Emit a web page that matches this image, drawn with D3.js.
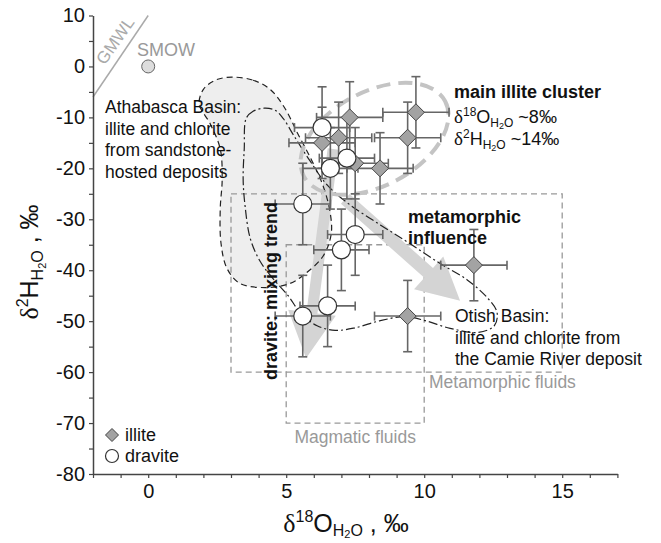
<!DOCTYPE html>
<html><head><meta charset="utf-8">
<script src="https://cdn.jsdelivr.net/npm/d3@7"></script>
<style>
html,body{margin:0;padding:0;background:#fff;}
svg{display:block;font-family:"Liberation Sans",Arial,Helvetica,sans-serif;}
</style></head><body>
<svg id="chart" width="661" height="543"></svg>
<script>
// Illite: δ18O and δ2H of the fluid (‰) with 1σ uncertainty
const illiteO   = [9.7, 9.4, 7.3, 6.9, 6.3, 8.4, 7.5, 11.8, 9.4];
const illiteH   = [-9, -14, -10, -14, -15, -20, -19, -39, -49];
const illiteOErr = [1.2, 1.2, 1.2, 1.2, 1.2, 1.2, 1.2, 1.2, 1.2];
const illiteHErr = [7, 7, 7, 7, 7, 7, 7, 7, 7];

// Dravite: δ18O and δ2H of the fluid (‰) with uncertainty
const draviteO   = [6.3, 7.2, 6.6, 5.6, 7.5, 7.0, 5.6, 6.5];
const draviteH   = [-12, -18, -20, -27, -33, -36, -49, -47];
const draviteOErr = [1.0, 1.0, 1.0, 1.0, 1.0, 1.0, 1.0, 1.0];
const draviteHErr = [8, 8, 8, 8, 8, 8, 8, 8];

// Reference water
const smow = [0, 0];
const gmwl = [[-2, -6], [0, 10]];

// Fluid source boxes [O min, O max, H min, H max]
const metamorphicBox = [3, 15, -60, -25];
const magmaticBox    = [5, 10, -70, -35];

// Athabasca Basin field (illite & chlorite, sandstone-hosted deposits)
const athabascaField = [
  [3.04,-2.1],[3.80,-2.7],[4.42,-4.5],[4.93,-8.0],[5.43,-13.3],[5.94,-18.6],
  [6.34,-23.5],[6.59,-28.6],[6.63,-32.9],[6.34,-37.2],[5.69,-40.7],[5.14,-42.6],
  [4.31,-43.4],[3.33,-42.6],[2.86,-39.7],[2.64,-34.8],[2.61,-28.0],[2.68,-22.1],
  [2.61,-16.2],[2.25,-11.3],[1.85,-7.4],[2.0,-4.5],[2.43,-2.7]
];
// Otish Basin field (Camie River deposit)
const otishField = [
  [4.20,-8.2],[3.80,-8.8],[3.55,-10.2],[3.48,-16.2],[3.44,-22.1],[3.51,-27.4],
  [3.70,-33.8],[4.06,-38.3],[4.53,-41.7],[5.07,-45.0],[5.51,-48.3],[6.12,-50.9],
  [6.78,-51.8],[7.50,-51.3],[8.41,-49.9],[9.31,-49.1],[10.04,-49.9],[10.94,-51.4],
  [11.96,-52.2],[12.54,-50.9],[12.64,-48.3],[12.32,-45.6],[11.56,-41.9],[10.58,-38.7],
  [9.49,-34.8],[8.41,-31.1],[7.32,-27.2],[6.49,-23.3],[5.87,-18.6],[5.29,-13.7],
  [4.89,-10.2],[4.60,-8.6]
];
// Main illite cluster (centre, δ18O/δ2H)
const clusterCentre = [8.2, -14.2];

// Trend arrows: [start, tip]
const mixingArrow = [[6.7, -16.2], [5.72, -57.3]];
const metamorphicArrow = [[7.14, -26.0], [11.3, -46.0]];

// Axis ticks
const xTicks = d3.range(-2, 18, 1);
const yTicks = d3.range(-80, 11, 5);

const svg = d3.select("#chart");
const x = d3.scaleLinear().domain([-2, 17]).range([93, 617.4]);
const y = d3.scaleLinear().domain([-80, 10]).range([474, 15.5]);

const illite = illiteO.map((o, i) => ({o, h: illiteH[i], eo: illiteOErr[i], eh: illiteHErr[i]}));
const dravite = draviteO.map((o, i) => ({o, h: draviteH[i], eo: draviteOErr[i], eh: draviteHErr[i]}));

const closedCurve = d3.line().x(d => x(d[0])).y(d => y(d[1])).curve(d3.curveCatmullRomClosed.alpha(0.5));

// Athabasca fill
svg.append("path").attr("d", closedCurve(athabascaField))
  .attr("fill", "#eeeeee").attr("stroke", "none");

// Fluid boxes
function box(b) {
  svg.append("rect")
    .attr("x", x(b[0])).attr("y", y(b[3]))
    .attr("width", x(b[1]) - x(b[0])).attr("height", y(b[2]) - y(b[3]))
    .attr("fill", "none").attr("stroke", "#999").attr("stroke-width", 1.3)
    .attr("stroke-dasharray", "6 4");
}
box(metamorphicBox);
box(magmaticBox);

// Trend arrows
function arrow(a, shaftW, headW, headL) {
  const x0 = x(a[0][0]), y0 = y(a[0][1]), x1 = x(a[1][0]), y1 = y(a[1][1]);
  const dx = x1 - x0, dy = y1 - y0, L = Math.hypot(dx, dy);
  const ux = dx / L, uy = dy / L, px = -uy, py = ux;
  const bx = x1 - ux * headL, by = y1 - uy * headL;
  const pts = [
    [x0 + px * shaftW / 2, y0 + py * shaftW / 2],
    [bx + px * shaftW / 2, by + py * shaftW / 2],
    [bx + px * headW / 2, by + py * headW / 2],
    [x1, y1],
    [bx - px * headW / 2, by - py * headW / 2],
    [bx - px * shaftW / 2, by - py * shaftW / 2],
    [x0 - px * shaftW / 2, y0 - py * shaftW / 2]
  ];
  svg.append("polygon").attr("points", pts.map(p => p.join(",")).join(" "))
    .attr("fill", "#d4d4d4");
}
arrow(mixingArrow, 11, 48, 46);
arrow(metamorphicArrow, 13, 44, 42);

// Field outlines
svg.append("path").attr("d", closedCurve(athabascaField))
  .attr("fill", "none").attr("stroke", "#222").attr("stroke-width", 1.2)
  .attr("stroke-dasharray", "6 4");
svg.append("path").attr("d", closedCurve(otishField))
  .attr("fill", "none").attr("stroke", "#222").attr("stroke-width", 1.2)
  .attr("stroke-dasharray", "9 3 2 3");

// Main illite cluster ellipse
svg.append("ellipse")
  .attr("transform", `translate(${x(clusterCentre[0])},${y(clusterCentre[1])}) rotate(-28)`)
  .attr("rx", 80).attr("ry", 47)
  .attr("fill", "none").attr("stroke", "#c4c4c4").attr("stroke-width", 4)
  .attr("stroke-dasharray", "14 8");

// GMWL and SMOW
svg.append("line")
  .attr("x1", x(gmwl[0][0])).attr("y1", y(gmwl[0][1]))
  .attr("x2", x(gmwl[1][0])).attr("y2", y(gmwl[1][1]))
  .attr("stroke", "#aaa").attr("stroke-width", 1.5);
svg.append("circle").attr("cx", x(smow[0])).attr("cy", y(smow[1])).attr("r", 6.5)
  .attr("fill", "#ddd").attr("stroke", "#666").attr("stroke-width", 1);

// Error bars
function errorBars(data) {
  const g = svg.append("g").attr("stroke", "#666").attr("stroke-width", 1.6).attr("fill", "none");
  const cap = 4.5;
  data.forEach(d => {
    const cx = x(d.o), cy = y(d.h);
    const xl = x(d.o - d.eo), xr = x(d.o + d.eo);
    const yt = y(d.h + d.eh), yb = y(d.h - d.eh);
    g.append("line").attr("x1", xl).attr("x2", xr).attr("y1", cy).attr("y2", cy);
    g.append("line").attr("x1", xl).attr("x2", xl).attr("y1", cy - cap).attr("y2", cy + cap);
    g.append("line").attr("x1", xr).attr("x2", xr).attr("y1", cy - cap).attr("y2", cy + cap);
    g.append("line").attr("x1", cx).attr("x2", cx).attr("y1", yt).attr("y2", yb);
    g.append("line").attr("x1", cx - cap).attr("x2", cx + cap).attr("y1", yt).attr("y2", yt);
    g.append("line").attr("x1", cx - cap).attr("x2", cx + cap).attr("y1", yb).attr("y2", yb);
  });
}
errorBars(illite);
errorBars(dravite);

// Markers
const diamondPath = s => `M0,${-s}L${s},0L0,${s}L${-s},0Z`;
svg.append("g").selectAll("path").data(illite).join("path")
  .attr("d", diamondPath(8.5))
  .attr("transform", d => `translate(${x(d.o)},${y(d.h)})`)
  .attr("fill", "#a3a3a3").attr("stroke", "#444").attr("stroke-width", 1);
svg.append("g").selectAll("circle").data(dravite).join("circle")
  .attr("cx", d => x(d.o)).attr("cy", d => y(d.h)).attr("r", 9)
  .attr("fill", "#fff").attr("stroke", "#333").attr("stroke-width", 1.2);

// Axes
const xAxis = svg.append("g").attr("transform", `translate(0,${y(-80)})`)
  .call(d3.axisBottom(x).tickValues(xTicks).tickFormat(d => d % 5 === 0 ? String(d) : "")
    .tickSize(4).tickSizeOuter(0).tickPadding(6));
const yAxis = svg.append("g").attr("transform", `translate(${x(-2)},0)`)
  .call(d3.axisLeft(y).tickValues(yTicks).tickFormat(d => d % 10 === 0 ? String(d) : "")
    .tickSize(4).tickSizeOuter(0).tickPadding(4));
[xAxis, yAxis].forEach(a => {
  a.select(".domain").attr("stroke", "#444").attr("stroke-width", 1.5);
  a.selectAll(".tick line").attr("stroke", "#444").attr("stroke-width", 1.2);
  a.selectAll(".tick text").attr("font-size", 20).attr("fill", "#111")
    .attr("font-family", "Liberation Sans, Arial, sans-serif");
});

// Text helper for rich labels: parts = [text, size, dy, family]
function rich(parent, parts) {
  parts.forEach(p => {
    const t = parent.append("tspan").text(p[0]).attr("font-size", p[1]);
    if (p[2]) t.attr("dy", p[2]);
    if (p[3]) t.attr("font-family", p[3]);
  });
}
const serif = "Liberation Serif, Times New Roman, serif";

// Axis titles
const xt = svg.append("text").attr("x", 346).attr("y", 532).attr("text-anchor", "middle").attr("fill", "#111");
rich(xt, [["δ", 26, 0, serif], ["18", 16, -10], ["O", 25, 10], ["H", 16, 4], ["2", 11, 2], ["O", 16, -2], [" , ‰", 25, -4]]);
const yt = svg.append("text").attr("transform", "translate(38,262) rotate(-90)").attr("text-anchor", "middle").attr("fill", "#111");
rich(yt, [["δ", 26, 0, serif], ["2", 16, -10], ["H", 25, 10], ["H", 16, 5], ["2", 11, 3], ["O", 16, -3], [" , ‰", 25, -5]]);

// GMWL / SMOW labels
svg.append("text").attr("transform", "translate(120,44) rotate(-55)").attr("text-anchor", "middle")
  .attr("font-size", 17).attr("fill", "#aaa").text("GMWL");
svg.append("text").attr("x", 137).attr("y", 56).attr("font-size", 18).attr("fill", "#999").text("SMOW");

// Multi-line annotation
function lines(xp, y0, dy, arr, opts = {}) {
  arr.forEach((s, i) => {
    svg.append("text").attr("x", xp).attr("y", y0 + i * dy)
      .attr("font-size", opts.size || 17.5).attr("font-weight", opts.weight || "normal")
      .attr("fill", opts.fill || "#111").text(s);
  });
}
lines(105, 113, 21.7, ["Athabasca Basin:", "illite and chlorite", "from sandstone-", "hosted deposits"]);
lines(455, 322, 21.5, ["Otish Basin:", "illite and chlorite from", "the Camie River deposit"]);
lines(408, 223, 20.5, ["metamorphic", "influence"], {weight: "bold", size: 18});
lines(454, 98, 0, ["main illite cluster"], {weight: "bold", size: 18});

const l2 = svg.append("text").attr("x", 454).attr("y", 123).attr("fill", "#111");
rich(l2, [["δ", 19, 0, serif], ["18", 12, -7], ["O", 18, 7], ["H", 12, 4], ["2", 9, 2], ["O", 12, -2], [" ~8‰", 18, -4]]);
const l3 = svg.append("text").attr("x", 454).attr("y", 145).attr("fill", "#111");
rich(l3, [["δ", 19, 0, serif], ["2", 12, -7], ["H", 18, 7], ["H", 12, 4], ["2", 9, 2], ["O", 12, -2], [" ~14‰", 18, -4]]);

svg.append("text").attr("transform", "translate(277,291) rotate(-90)").attr("text-anchor", "middle")
  .attr("font-size", 18).attr("font-weight", "bold").attr("fill", "#111").text("dravite: mixing trend");

svg.append("text").attr("x", 429).attr("y", 388).attr("font-size", 17.5).attr("fill", "#999").text("Metamorphic fluids");
svg.append("text").attr("x", x((magmaticBox[0] + magmaticBox[1]) / 2)).attr("y", 443).attr("text-anchor", "middle")
  .attr("font-size", 17.5).attr("fill", "#999").text("Magmatic fluids");

// Legend
const lg = svg.append("g");
lg.append("path").attr("d", diamondPath(6.5)).attr("transform", "translate(112,435)")
  .attr("fill", "#a3a3a3").attr("stroke", "#444").attr("stroke-width", 1);
lg.append("circle").attr("cx", 112).attr("cy", 456).attr("r", 6.5)
  .attr("fill", "#fff").attr("stroke", "#333").attr("stroke-width", 1.2);
lg.append("text").attr("x", 125).attr("y", 441).attr("font-size", 18).attr("fill", "#111").text("illite");
lg.append("text").attr("x", 125).attr("y", 462).attr("font-size", 18).attr("fill", "#111").text("dravite");
</script>
</body></html>
